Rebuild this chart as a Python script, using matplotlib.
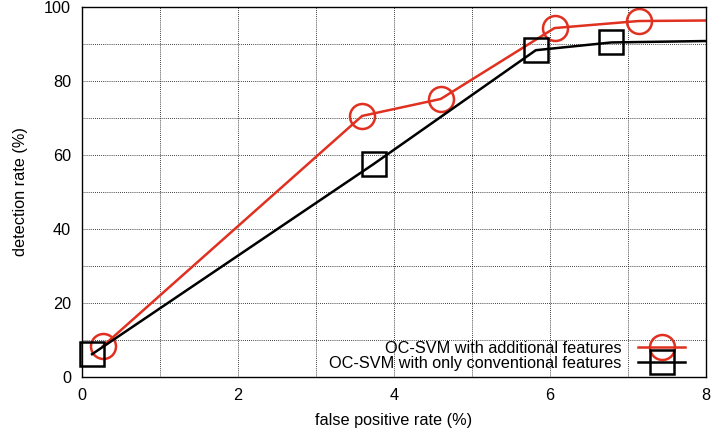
import matplotlib
matplotlib.use("Agg")
import matplotlib.pyplot as plt
from matplotlib.ticker import MultipleLocator

plt.rcParams['font.family'] = ['Liberation Sans', 'DejaVu Sans']
plt.rcParams['font.size'] = 11.7

# OC-SVM with additional features (last point lies past the x range, clipped)
fpr_add = [0.265, 3.59, 4.60, 6.06, 7.14, 9.0]
det_add = [8.3, 70.6, 75.2, 94.4, 96.3, 96.6]

# OC-SVM with only conventional features
fpr_conv = [0.125, 3.74, 5.82, 6.79, 9.0]
det_conv = [6.1, 57.6, 88.4, 90.5, 91.2]

red = '#e03020'
xmax = 8

fig = plt.figure(figsize=(7.11, 4.33), dpi=100)
ax = fig.add_axes([0.1158, 0.130, 0.8767, 0.853])

series = [
    (fpr_add, det_add, red, 'o', 18, 'OC-SVM with additional features'),
    (fpr_conv, det_conv, 'black', 's', 17, 'OC-SVM with only conventional features'),
]
for xs, ys, c, m, ms, lab in series:
    ax.plot(xs, ys, color=c, lw=1.8)
    inside = [(x, y) for x, y in zip(xs, ys) if x <= xmax]
    ax.plot([p[0] for p in inside], [p[1] for p in inside], ls='none',
            marker=m, ms=ms, mfc='none', mec=c, mew=1.8, clip_on=False)
    # legend proxy
    ax.plot([], [], color=c, lw=1.8, marker=m, ms=ms, mfc='none', mec=c,
            mew=1.8, label=lab)

ax.set_xlim(0, xmax)
ax.set_ylim(0, 100)
ax.xaxis.set_major_locator(MultipleLocator(2))
ax.xaxis.set_minor_locator(MultipleLocator(1))
ax.yaxis.set_major_locator(MultipleLocator(20))
ax.yaxis.set_minor_locator(MultipleLocator(10))
ax.grid(which='both', color='black', linestyle=(0, (1, 1.5)), linewidth=0.6)
ax.tick_params(which='both', direction='in', top=True, right=True, length=0)
ax.tick_params(axis='x', pad=8)
ax.tick_params(axis='y', pad=8)
for s in ax.spines.values():
    s.set_linewidth(1.0)

ax.set_xlabel('false positive rate (%)', labelpad=7)
ax.set_ylabel('detection rate (%)', labelpad=12)

ax.legend(loc='lower right', bbox_to_anchor=(0.967, 0.015), frameon=False,
          markerfirst=False, numpoints=1, handlelength=2.9, labelspacing=0.0,
          borderpad=0, borderaxespad=0, handletextpad=1.0)

fig.savefig('out.png', dpi=100)
